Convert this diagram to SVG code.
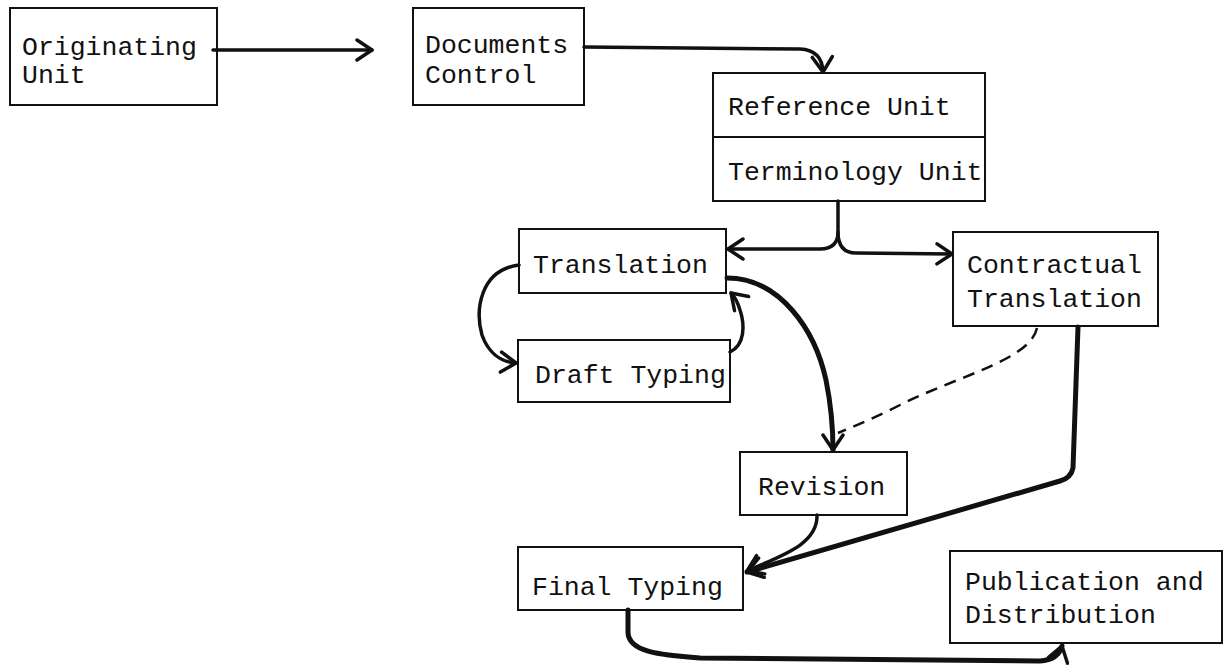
<svg xmlns="http://www.w3.org/2000/svg" width="1227" height="665" viewBox="0 0 1227 665">
<style>
.box{fill:none;stroke:#111;stroke-width:2}
.t{font-family:"Liberation Mono","Courier New",monospace;font-size:26.5px;fill:#111}
.c{fill:none;stroke:#111;stroke-width:3.5;stroke-linecap:round;stroke-linejoin:round}
.thick{stroke-width:5}
.dash{stroke-width:2.5;stroke-dasharray:12 8;stroke-linecap:butt}
</style>
<defs>
<marker id="arr" viewBox="0 0 24 24" refX="21" refY="12" markerWidth="24" markerHeight="24" markerUnits="userSpaceOnUse" orient="auto">
<path d="M6,2 L21,12 L6,22" fill="none" stroke="#111" stroke-width="3.5" stroke-linecap="round" stroke-linejoin="round"/>
</marker>
</defs>
<rect width="1227" height="665" fill="#fff"/>
<g id="originating">
<rect class="box" x="10" y="8" width="207" height="97"/>
<text class="t" x="22" y="55">Originating</text>
<text class="t" x="22" y="83">Unit</text>
</g>
<g id="documents">
<rect class="box" x="413" y="8" width="171" height="97"/>
<text class="t" x="425" y="53">Documents</text>
<text class="t" x="425" y="83">Control</text>
</g>
<g id="reference">
<rect class="box" x="713" y="73" width="272" height="128"/>
<line class="box" x1="713" y1="137" x2="985" y2="137"/>
<text class="t" x="728" y="115">Reference Unit</text>
<text class="t" x="728" y="180">Terminology Unit</text>
</g>
<g id="translation">
<rect class="box" x="519" y="229" width="207" height="64"/>
<text class="t" x="533" y="273">Translation</text>
</g>
<g id="draft">
<rect class="box" x="518" y="340" width="212" height="62"/>
<text class="t" x="535" y="383">Draft Typing</text>
</g>
<g id="contractual">
<rect class="box" x="953" y="232" width="205" height="94"/>
<text class="t" x="967" y="273">Contractual</text>
<text class="t" x="967" y="307">Translation</text>
</g>
<g id="revision">
<rect class="box" x="740" y="452" width="167" height="63"/>
<text class="t" x="758" y="495">Revision</text>
</g>
<g id="final">
<rect class="box" x="518" y="547" width="225" height="63"/>
<text class="t" x="532" y="595">Final Typing</text>
</g>
<g id="publication">
<rect class="box" x="950" y="551" width="272" height="92"/>
<text class="t" x="965" y="590">Publication and</text>
<text class="t" x="965" y="623">Distribution</text>
</g>
<g id="connectors">
<path class="c" d="M213,50 L372,50" marker-end="url(#arr)"/>
<path class="c" d="M584,47 L800,49 Q822,50 823,72" marker-end="url(#arr)"/>
<path class="c" d="M838,201 L838,232 Q838,249 820,249 L728,249" marker-end="url(#arr)"/>
<path class="c" d="M838,232 Q838,253 856,253 L952,254" marker-end="url(#arr)"/>
<path class="c thick" d="M727,278 C780,278 815,330 826,380 C832,410 833,430 833,450" marker-end="url(#arr)"/>
<path class="c dash" d="M1037,328 C1030,360 960,375 900,405 C870,420 850,428 838,433"/>
<path class="c thick" d="M1078,327 L1073,468 Q1071,478 1060,481 L747,572" marker-end="url(#arr)"/>
<path class="c" d="M817,515 C818,545 780,556 747,571" marker-end="url(#arr)"/>
<path class="c thick" d="M628,610 L628,632 C628,652 660,655 700,658 L1040,661 Q1058,660 1062,646" marker-end="url(#arr)"/>
<path class="c" d="M519,265 C480,270 475,310 482,335 C488,352 500,362 516,363" marker-end="url(#arr)"/>
<path class="c" d="M730,352 C745,345 745,325 740,310 C737,300 734,296 731,293" marker-end="url(#arr)"/>
</g>
</svg>
